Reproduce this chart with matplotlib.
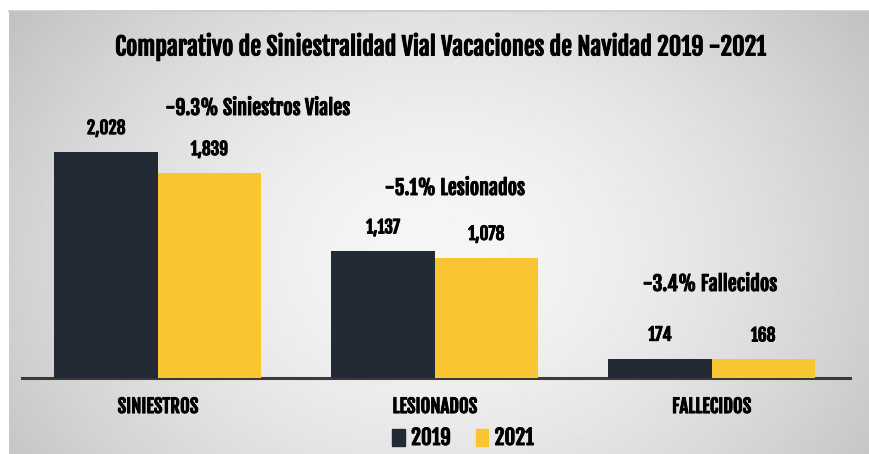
import numpy as np
import matplotlib.pyplot as plt
import matplotlib.patheffects as pe
from matplotlib.patches import Patch

# Data
categorias = ["SINIESTROS", "LESIONADOS", "FALLECIDOS"]
valores_2019 = [2028, 1137, 174]
valores_2021 = [1839, 1078, 168]
etiquetas_2019 = ["2,028", "1,137", "174"]
etiquetas_2021 = ["1,839", "1,078", "168"]
variaciones = ["-9.3% Siniestros Viales", "-5.1% Lesionados", "-3.4% Fallecidos"]
anios = ["2019", "2021"]

color_2019 = "#232a36"
color_2021 = "#f9c632"
fuente = ["Fjalla One", "Roboto Condensed", "DejaVu Sans"]
grueso = [pe.withStroke(linewidth=0.7, foreground="black")]

W, H = 869, 454
fig = plt.figure(figsize=(W / 100, H / 100), dpi=100)
fig.patch.set_facecolor("white")

# background: radial gray gradient of the slide
bx0, by0 = 9 / W, 0.0
bg = fig.add_axes([bx0, by0, 1 - bx0, 1 - 11 / H])
yy, xx = np.mgrid[0:1:300j, 0:1:600j]
r = np.sqrt(((xx - 0.5) / 0.62) ** 2 + ((yy - 0.55) / 0.95) ** 2)
shade = 0.965 - 0.21 * np.clip(r, 0, 1.2) ** 1.6
bg.imshow(shade, cmap="gray", vmin=0, vmax=1, aspect="auto", extent=[0, 1, 0, 1])
bg.axis("off")
# thin line at top edge
fig.add_artist(plt.Line2D([bx0, 1], [1 - 11 / H, 1 - 11 / H], color="#c9c9c9", lw=1.2))

# main axes: baseline at y=378, x from 22 to 850
ax = fig.add_axes([22 / W, (H - 378) / H, (850 - 22) / W, (378 - 20) / H])
ax.patch.set_alpha(0)
x = np.arange(len(categorias))
w = 0.373
ax.bar(x - w / 2, valores_2019, w, color=color_2019, zorder=3)
ax.bar(x + w / 2, valores_2021, w, color=color_2021, zorder=3)
ax.set_xlim(-0.49, 2.5)
ax.set_ylim(0, 2028 * 358 / 226)

for i in range(len(categorias)):
    ax.annotate(etiquetas_2019[i], (x[i] - w / 2, valores_2019[i]), xytext=(0, 10),
                textcoords="offset points", ha="center", va="bottom",
                fontsize=12.5, family=fuente, path_effects=grueso)
    ax.annotate(etiquetas_2021[i], (x[i] + w / 2, valores_2021[i]), xytext=(0, 10),
                textcoords="offset points", ha="center", va="bottom",
                fontsize=12.5, family=fuente, path_effects=grueso)

# percentage change notes
notas_x = [258, 455, 710]
notas_y = [108, 188, 284]
for nota, nx, ny in zip(variaciones, notas_x, notas_y):
    fig.text(nx / W, 1 - ny / H, nota, ha="center", va="center",
             fontsize=14.5, family=fuente, path_effects=grueso)

for s in ["top", "right", "left"]:
    ax.spines[s].set_visible(False)
ax.spines["bottom"].set_color("#3a3a3a")
ax.spines["bottom"].set_linewidth(2.2)
ax.set_yticks([])
ax.set_xticks(x)
ax.set_xticklabels(categorias, fontsize=13.5, family=fuente)
for t in ax.get_xticklabels():
    t.set_path_effects(grueso)
ax.tick_params(axis="x", length=0, pad=13)

fig.text(440 / W, 1 - 47 / H, "Comparativo de Siniestralidad Vial Vacaciones de Navidad 2019 -2021",
         ha="center", va="center", fontsize=17.5, family=fuente, path_effects=grueso)

handles = [Patch(color=color_2019), Patch(color=color_2021)]
leg = fig.legend(handles, anios, loc="center", bbox_to_anchor=(463 / W, 1 - 438 / H), ncol=2,
                 frameon=False, handlelength=0.6, handleheight=0.9, handletextpad=0.3,
                 columnspacing=1.2, prop={"family": fuente, "size": 15})
for t in leg.get_texts():
    t.set_path_effects(grueso)

fig.savefig("out.png", dpi=100)
